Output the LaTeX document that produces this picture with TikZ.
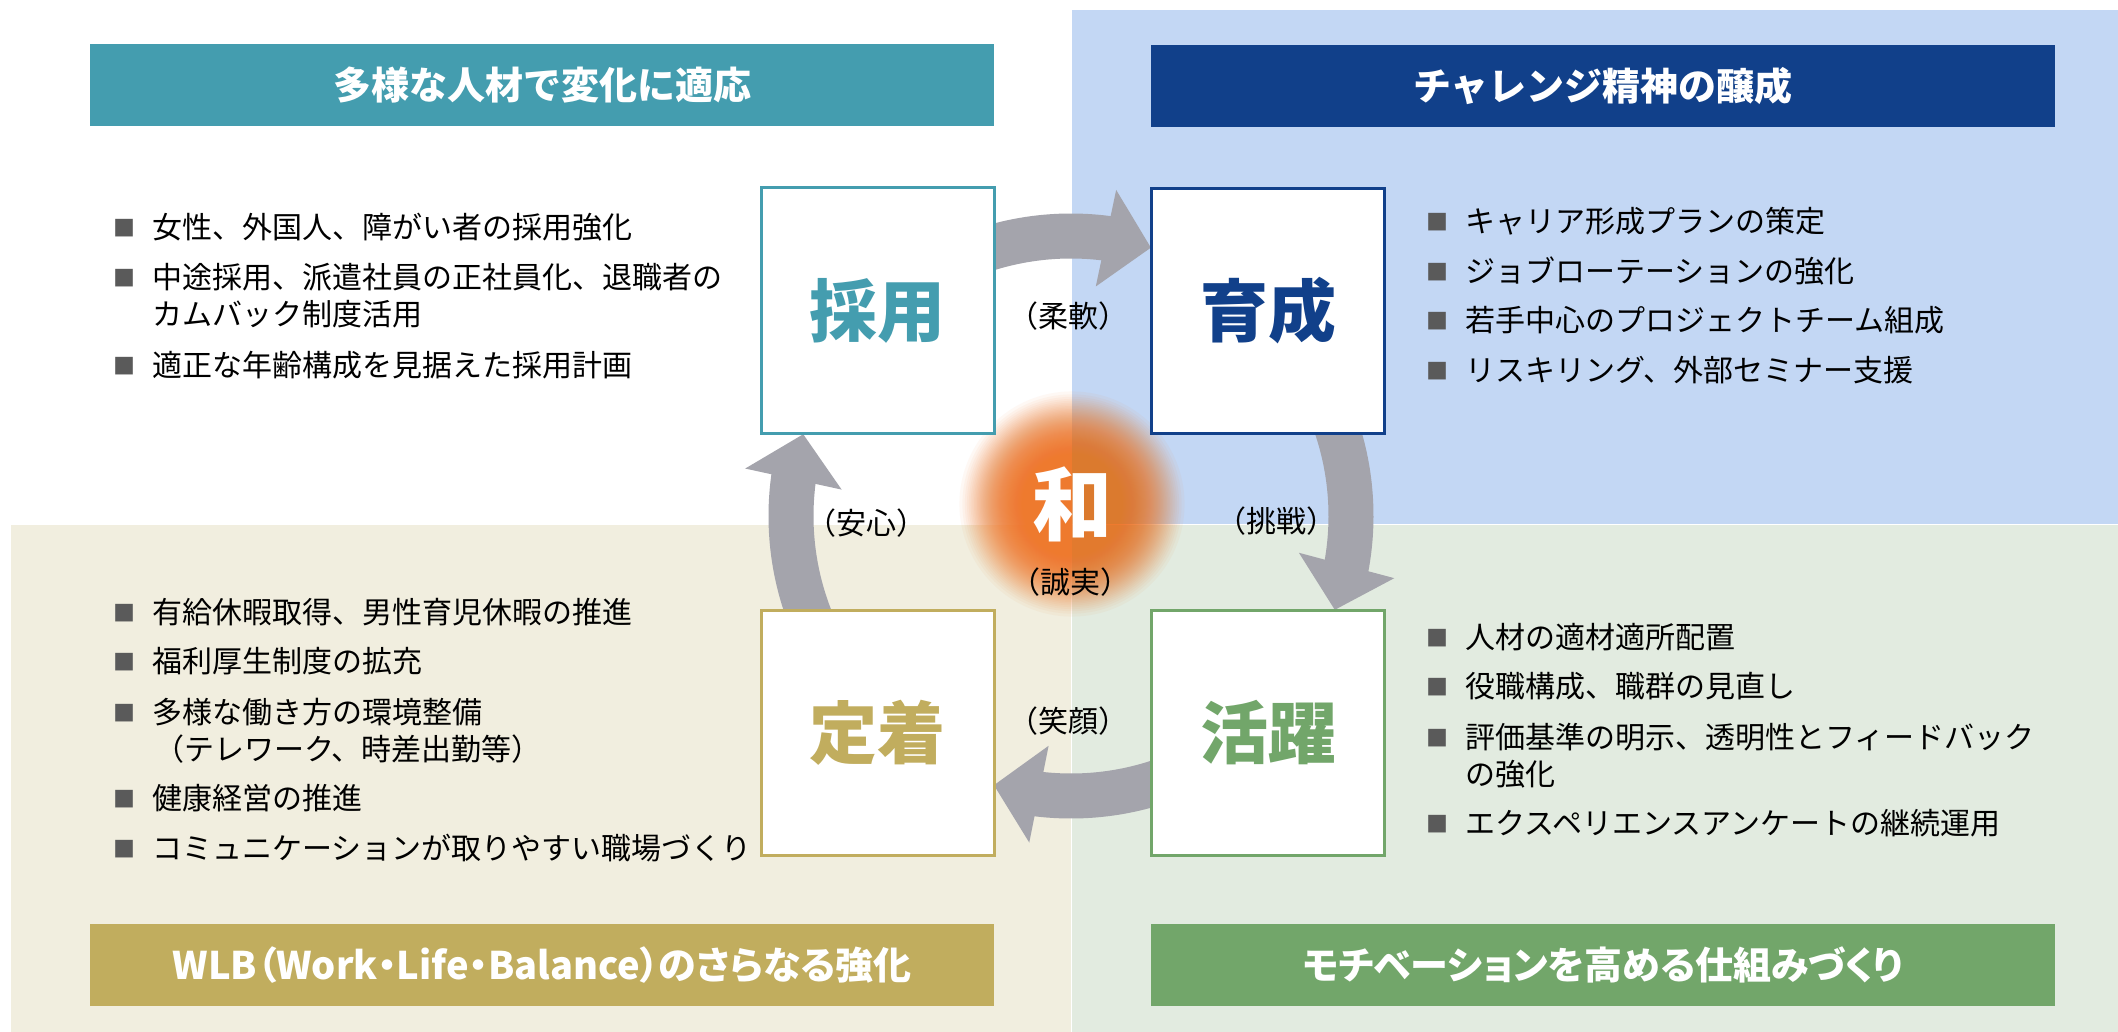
\documentclass[tikz,border=0pt]{standalone}
\usepackage{fontspec}
\newfontfamily\jp{Noto Sans CJK JP}
\newfontfamily\jpp{Noto Sans CJK JP}[RawFeature={+palt}]
\usetikzlibrary{arrows.meta,bending,calc}

\definecolor{tealc}{HTML}{449DAF}
\definecolor{navyc}{HTML}{11408A}
\definecolor{goldc}{HTML}{C1AD5E}
\definecolor{greenc}{HTML}{72A66A}
\definecolor{bgblue}{HTML}{C3D7F4}
\definecolor{bgbeige}{HTML}{F1EEDF}
\definecolor{bggreen}{HTML}{E2EBE0}
\definecolor{arrowgray}{HTML}{A4A4AC}
\definecolor{bulgray}{HTML}{5A5A5A}
\definecolor{glowor}{HTML}{EE7A2E}

\newcommand{\bul}{\makebox[39pt][l]{\raisebox{2pt}{\textcolor{bulgray}{\fontsize{22}{22}\selectfont ■}}}}

\begin{document}
\begin{tikzpicture}[x=1pt,y=-1pt,
  hdr/.style={fill=#1, minimum width=904pt, minimum height=82pt, inner sep=0pt, text=white, font=\jp\bfseries\fontsize{38}{44}\selectfont},
  hdrp/.style={hdr=#1, font=\jpp\bfseries\fontsize{38}{44}\selectfont},
  card/.style={draw=#1, line width=3pt, fill=white, minimum width=233pt, minimum height=245pt, inner sep=0pt, text=#1, font=\jp\bfseries\fontsize{68}{76}\selectfont},
  itm/.style={anchor=west, inner sep=0pt, text height=26.4pt, text depth=3.6pt, font=\jp\fontsize{30}{35}\selectfont},
  lbl/.style={inner sep=0pt, font=\jp\fontsize{30}{35}\selectfont},
  ringarrow/.style={draw=arrowgray, line width=45pt, -{Triangle[length=46pt,width=96pt]}},
]
\useasboundingbox (0,0) rectangle (2118,1032);
\fill[white] (0,0) rectangle (2118,1032);
% quadrants
\fill[bgblue] (1072,10) rectangle (2118,524);
\fill[bgbeige] (11,525) rectangle (1071,1032);
\fill[bggreen] (1072,525) rectangle (2118,1032);

% glow (stacked translucent discs)
\coordinate (G) at (1072,504);
\foreach \k in {1,...,110}{
  \pgfmathsetmacro{\rr}{118*(1-0.0459*(\k)^0.628)}
  \fill[glowor, fill opacity=0.05] (G) circle[radius=\rr pt];
}

% ring arrows
\coordinate (C) at (1071,516);
\coordinate (a1) at ($(C)+(109:280pt)$);
\coordinate (a2) at ($(C)+(20:280pt)$);
\coordinate (a3) at ($(C)+(-70:280pt)$);
\coordinate (a4) at ($(C)+(203:280pt)$);
\draw[ringarrow] (a1) arc[start angle=109, end angle=73.4, radius=280pt];
\draw[ringarrow] (a2) arc[start angle=20, end angle=-19.6, radius=280pt];
\draw[ringarrow] (a3) arc[start angle=-70, end angle=-106, radius=280pt];
\draw[ringarrow] (a4) arc[start angle=203, end angle=163, radius=280pt];

% headers
\node[hdr=tealc] (h1) at (542,85) {多様な人材で変化に適応};
\node[hdr=navyc] (h2) at (1603,86) {チャレンジ精神の醸成};
\node[hdrp=goldc] (h3) at (542,965) {WLB（Work・Life・Balance）のさらなる強化};
\node[hdrp=greenc] (h4) at (1603,965) {モチベーションを高める仕組みづくり};

% cards
\node[card=tealc] (saiyo) at (877.5,310.5) {採用};
\node[card=navyc] (ikusei) at (1268,311) {育成};
\node[card=goldc] (teichaku) at (877.5,732.5) {定着};
\node[card=greenc] (katsuyaku) at (1268,732.5) {活躍};

% center
\node[inner sep=0pt, text=white, font=\jp\bfseries\fontsize{80}{88}\selectfont] (wa) at (1072,504) {和};
\node[lbl] (seijitsu) at (1070,582) {（誠実）};
\node[lbl] (juunan) at (1068,316) {（柔軟）};
\node[lbl] (chousen) at (1276,521) {（挑戦）};
\node[lbl] (anshin) at (866,523) {（安心）};
\node[lbl] (egao) at (1068,721) {（笑顔）};

% top-left items
\node[itm] (tl1) at (113,227) {\bul 女性、外国人、障がい者の採用強化};
\node[itm] (tl2) at (113,277.5) {\bul 中途採用、派遣社員の正社員化、退職者の};
\node[itm] (tl2b) at (152,314) {カムバック制度活用};
\node[itm] (tl3) at (113,365) {\bul 適正な年齢構成を見据えた採用計画};

% top-right items
\node[itm] (tr1) at (1426,221) {\bul キャリア形成プランの策定};
\node[itm] (tr2) at (1426,271) {\bul ジョブローテーションの強化};
\node[itm] (tr3) at (1426,320) {\bul 若手中心のプロジェクトチーム組成};
\node[itm] (tr4) at (1426,370) {\bul リスキリング、外部セミナー支援};

% bottom-left items
\node[itm] (bl1) at (113,612) {\bul 有給休暇取得、男性育児休暇の推進};
\node[itm] (bl2) at (113,661) {\bul 福利厚生制度の拡充};
\node[itm] (bl3) at (113,712) {\bul 多様な働き方の環境整備};
\node[itm] (bl3b) at (154,749) {（テレワーク、時差出勤等）};
\node[itm] (bl4) at (113,798) {\bul 健康経営の推進};
\node[itm] (bl5) at (113,848) {\bul コミュニケーションが取りやすい職場づくり};

% bottom-right items
\node[itm] (br1) at (1426,637) {\bul 人材の適材適所配置};
\node[itm] (br2) at (1426,686) {\bul 役職構成、職群の見直し};
\node[itm] (br3) at (1426,737) {\bul 評価基準の明示、透明性とフィードバック};
\node[itm] (br3b) at (1465,774.5) {の強化};
\node[itm] (br4) at (1426,823.5) {\bul エクスペリエンスアンケートの継続運用};
\end{tikzpicture}
\end{document}
